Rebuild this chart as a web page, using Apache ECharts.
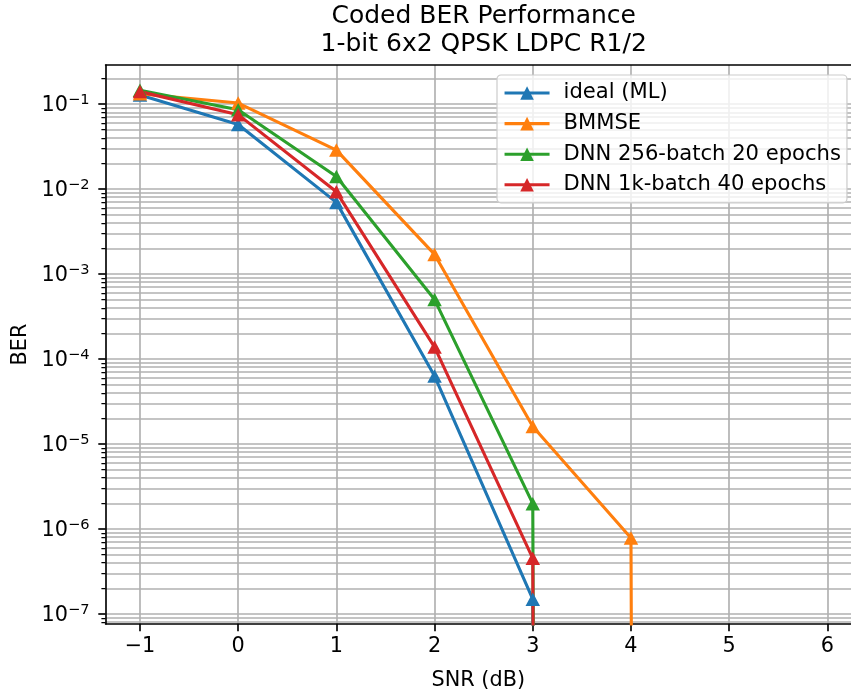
<!DOCTYPE html>
<html><head><meta charset="utf-8">
<script src="https://cdn.jsdelivr.net/npm/echarts@6/dist/echarts.min.js"></script>
<style>html,body{margin:0;padding:0;background:#fff}#c{width:851px;height:696px}</style>
</head><body><div id="c"></div>
<script>
// ---- data ----
const snr = [-1, 0, 1, 2, 3, 4, 5, 6];
const berIdeal  = [0.128, 0.0573, 0.00696, 6.3e-5, 1.49e-7, 0, 0, 0];
const berBMMSE  = [0.132, 0.1027, 0.0287, 1.7e-3, 1.6e-5, 7.8e-7, 0, 0];
const berDNN256 = [0.145, 0.0858, 0.0140, 5.0e-4, 1.98e-6, 0, 0, 0];
const berDNN1k  = [0.140, 0.075, 0.00927, 1.38e-4, 4.5e-7, 0, 0, 0];
const seriesNames = ['ideal (ML)', 'BMMSE', 'DNN 256-batch 20 epochs', 'DNN 1k-batch 40 epochs'];
const xTicks = [-1, 0, 1, 2, 3, 4, 5, 6];
const yMajorExps = [-7, -6, -5, -4, -3, -2, -1];
const yMinorMantissas = [2, 3, 4, 5, 6, 7, 8, 9];
const yMinorExps = [-8, -7, -6, -5, -4, -3, -2, -1];
const titleLines = ['Coded BER Performance', '1-bit 6x2 QPSK LDPC R1/2'];
const xLabel = 'SNR (dB)';
const yLabel = 'BER';

// ---- layout / style ----
const FONT = 'DejaVu Sans';
const FS = 20.8;
const colors = ['#1f77b4', '#ff7f0e', '#2ca02c', '#d62728'];
const X_MIN = -1.35, X_MAX = 6.2406, Y_MIN = 7.6e-8, Y_MAX = 0.288;
const yMajor = yMajorExps.map(e => Math.pow(10, e));
const yMinor = [];
yMinorExps.forEach(e => yMinorMantissas.forEach(m => {
  const v = m * Math.pow(10, e);
  if (v >= Y_MIN && v <= Y_MAX) yMinor.push(v);
}));
const gridLine = { show: true, lineStyle: { color: '#b0b0b0', width: 1.65 } };
const txt = { fontFamily: FONT, color: '#000' };

const allSeries = [berIdeal, berBMMSE, berDNN256, berDNN1k];
const series = allSeries.map((vals, i) => ({
  name: seriesNames[i],
  type: 'line',
  xAxisIndex: 0,
  yAxisIndex: 0,
  data: snr.map((x, k) => [x, vals[k] > 0 ? vals[k] : 1e-300]),
  symbol: 'triangle',
  symbolSize: [14.5, 13.5],
  showSymbol: true,
  clip: true,
  color: colors[i],
  lineStyle: { width: 3.1, color: colors[i] },
  itemStyle: { color: colors[i] },
  emphasis: { disabled: true }
}));

const chart = echarts.init(document.getElementById('c'), null, { renderer: 'canvas' });
chart.setOption({
  animation: false,
  backgroundColor: '#ffffff',
  title: {
    text: titleLines.join('\n'), left: 483.7, top: 2, textAlign: 'center', padding: 0,
    textStyle: { fontFamily: FONT, fontSize: 25, fontWeight: 'normal', color: '#000', lineHeight: 28 }
  },
  grid: { left: 105.6, top: 65, width: 745.4, height: 563, show: false, containLabel: false },
  legend: {
    orient: 'vertical', left: 497, top: 75, padding: [7, 6, 7, 6],
    itemWidth: 45, itemHeight: 17, itemGap: 8.6,
    lineStyle: { width: 3.1 },
    backgroundColor: 'rgba(255,255,255,0.8)', borderColor: '#cccccc', borderWidth: 1.2, borderRadius: 4,
    textStyle: { fontFamily: FONT, fontSize: 21.1, color: '#000', lineHeight: 22, padding: [0, 0, 0, 9] },
    data: seriesNames
  },
  xAxis: [{
    type: 'value', min: X_MIN, max: X_MAX, position: 'bottom',
    axisLine: { show: true, onZero: false, lineStyle: { color: '#000', width: 1.65 } },
    axisTick: { show: true, customValues: xTicks, length: 7.3, lineStyle: { color: '#000', width: 1.65 } },
    axisLabel: { customValues: xTicks, margin: 12, fontSize: FS, ...txt,
      formatter: v => (v < 0 ? '\u2212' + Math.abs(v) : String(v)) },
    splitLine: gridLine,
    name: xLabel, nameLocation: 'middle', nameGap: 46,
    nameTextStyle: { fontSize: FS, ...txt }
  }, {
    type: 'value', min: X_MIN, max: X_MAX, position: 'top',
    axisLine: { show: true, onZero: false, lineStyle: { color: '#000', width: 1.65 } },
    axisTick: { show: false }, axisLabel: { show: false }, splitLine: { show: false }
  }],
  yAxis: [{
    type: 'log', logBase: 10, min: Y_MIN, max: Y_MAX, position: 'left',
    axisLine: { show: true, onZero: false, lineStyle: { color: '#000', width: 1.65 } },
    axisTick: { show: true, customValues: yMajor, length: 7.3, lineStyle: { color: '#000', width: 1.65 } },
    axisLabel: { customValues: yMajor, margin: 16, ...txt,
      formatter: v => { const e = Math.round(Math.log10(v)); return '{b|10}{s|' + (e < 0 ? '\u2212' : '') + Math.abs(e) + '}'; },
      rich: { b: { fontSize: FS, fontFamily: FONT, color: '#000', padding: [3, 0, 0, 0] },
              s: { fontSize: 14.6, fontFamily: FONT, color: '#000', padding: [0, 0, 7, 0] } } },
    splitLine: gridLine,
    name: yLabel, nameLocation: 'middle', nameGap: 74, nameRotate: 90,
    nameTextStyle: { fontSize: FS, ...txt }
  }, {
    type: 'log', logBase: 10, min: Y_MIN, max: Y_MAX, position: 'left',
    axisLine: { show: false, onZero: false },
    axisTick: { show: true, customValues: yMinor, length: 4.2, lineStyle: { color: '#000', width: 1.25 } },
    axisLabel: { show: false },
    splitLine: gridLine
  }],
  series: series
});
</script></body></html>
